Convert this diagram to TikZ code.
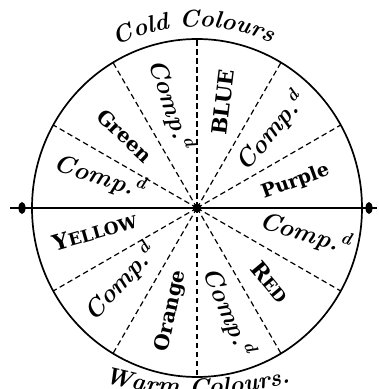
\documentclass[tikz,border=0pt]{standalone}
\usepackage{fontspec}
\newfontfamily\clarendon{DejaVu Serif}
\usetikzlibrary{shapes.geometric,decorations.text,calc}
\newcommand\compd{Comp.\textsuperscript{d}}
\newcommand\capword[2]{{\fontsize{22}{22}\selectfont#1}{\fontsize{17}{17}\selectfont#2}}

\begin{document}
\begin{tikzpicture}[x=1pt, y=1pt,
    rim/.style={draw, ellipse, line width=1.7pt, minimum width=330pt,
                minimum height=338pt, inner sep=0pt, outer sep=0pt},
    spoke/.style={line width=1.2pt, dash pattern=on 5.5pt off 3.5pt},
    axisline/.style={line width=2.4pt},
    knob/.style={ellipse, fill, minimum width=7pt, minimum height=12pt, inner sep=0pt},
    hub/.style={circle, fill, minimum size=9pt, inner sep=0pt},
    colname/.style={font=\clarendon\bfseries, inner sep=0pt},
    comp/.style={font=\bfseries\itshape, inner sep=0pt}
]
\useasboundingbox (0,0) rectangle (379,389);
\coordinate (c) at (197,181);
\node[rim] (wheel) at (c) {};

% spokes between the sectors
\foreach \a in {30,60,...,150,210,240,...,330}
  \draw[spoke] (c) -- (wheel.\a);

% the warm / cold axis
\coordinate (lend) at (10,181);
\coordinate (rend) at (377,181);
\draw[axisline] (lend) -- (rend);
\node[knob] (kl) at (22,181) {};
\node[knob] (kr) at (369,181) {};
\node[hub] (hub) at (c) {};

% sector labels: angle / radius / rotation / style / size / text
\foreach \a/\r/\rot/\sty/\sz/\txt [count=\i] in {
    15/102/20/colname/19/Purple,
    46/106/50/comp/25/\compd,
    76/109/83/colname/21/BLUE,
    104/107/-72/comp/25/\compd,
    135/102/-43/colname/20/Green,
    162/102/-18/comp/25/\compd,
    193/105/16/colname/18/{\capword{Y}{ELLOW}},
    224/107/47/comp/25/\compd,
    256/106/78/colname/20/Orange,
    287/108/-67/comp/25/\compd,
    315/104/-50/colname/16/{\capword{R}{ED}},
    347/111/-17/comp/25/\compd}
  \node[\sty, rotate=\rot] (lab\i) at ($(c)+(\a:\r)$)
    {\fontsize{\sz}{\sz}\selectfont\txt};

% titles along the rim
\path[decorate, decoration={text along path, text align=center,
    text={|\bfseries\itshape\fontsize{24}{24}\selectfont|Cold Colours}}]
  (c) ++(115:181) arc[start angle=115, end angle=67, radius=181];
\path[decorate, decoration={text along path, text align=center,
    text={|\bfseries\itshape\fontsize{24}{24}\selectfont|Warm Colours.}}]
  (197,347) ++(255:353) arc[start angle=255, end angle=285, radius=353];
\end{tikzpicture}
\end{document}
